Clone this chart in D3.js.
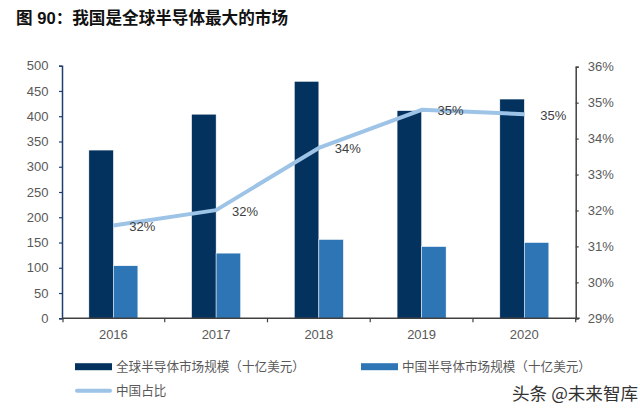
<!DOCTYPE html>
<html><head><meta charset="utf-8">
<script src="https://cdn.jsdelivr.net/npm/d3@7"></script>
<style>body{margin:0;background:#fff}svg{display:block}</style>
</head><body>
<svg id="c" width="640" height="415"></svg>
<script>
const years = ["2016","2017","2018","2019","2020"];
const globalMarket = [333, 404, 469, 411, 434];
const chinaMarket = [104, 129, 156, 142, 150];
const chinaShare = [31.58, 32.01, 33.74, 34.80, 34.68];
const shareLabels = ["32%","32%","34%","35%","35%"];
const leftTicks = [0,50,100,150,200,250,300,350,400,450,500];
const rightTicks = [29,30,31,32,33,34,35,36];
const seriesNames = ["全球半导体市场规模（十亿美元）","中国半导体市场规模（十亿美元）","中国占比"];

const colDark = "#04325F", colMid = "#2E75B6", colLine = "#9DC3E6";
const svg = d3.select("#c");
const L = 62, R = 575.7, T = 65.7, B = 318.3;
const x = d3.scaleBand().domain(years).range([L, R]).padding(0);
const y = d3.scaleLinear().domain([0, 500]).range([B, T]);
const y2 = d3.scaleLinear().domain([29, 36]).range([B, 66.7]);
const gw = 49;
const x1 = d3.scaleBand().domain([0,1]).range([0, gw]).padding(0);
const off = (x.bandwidth() - gw) / 2;

// title
svg.append("text").attr("x", 16).attr("y", 24)
  .attr("font-family", "'Liberation Sans','Noto Sans CJK SC',sans-serif")
  .attr("font-weight", "bold").attr("font-size", 16.6).attr("fill", "#111")
  .text("图 90：我国是全球半导体最大的市场");

// bars
const g = svg.append("g");
years.forEach((yr, i) => {
  [globalMarket[i], chinaMarket[i]].forEach((v, k) => {
    g.append("rect")
      .attr("x", x(yr) + off + x1(k)).attr("width", x1.bandwidth())
      .attr("y", y(v)).attr("height", B - y(v))
      .attr("fill", k === 0 ? colDark : colMid)
      .attr("stroke", "#fff").attr("stroke-width", 0.5);
  });
});

// left axis
const ax = svg.append("g").attr("transform", `translate(${L},0)`)
  .call(d3.axisLeft(y).tickValues(leftTicks).tickSize(3).tickPadding(10.5));
ax.select(".domain").attr("stroke", "#1F3F6F").attr("stroke-width", 1.5);
ax.selectAll(".tick line").attr("stroke", "#1F3F6F").attr("stroke-width", 1.2);
ax.selectAll("text").attr("font-family", "'Liberation Sans',Arial,sans-serif")
  .attr("font-size", 13).attr("fill", "#595959");

// right axis
const ar = svg.append("g").attr("transform", `translate(${R},0)`)
  .call(d3.axisRight(y2).tickValues(rightTicks).tickSize(3).tickPadding(9).tickFormat(d => d + "%"));
ar.select(".domain").attr("stroke", "#404040").attr("stroke-width", 1.5);
ar.selectAll(".tick line").attr("stroke", "#404040").attr("stroke-width", 1.2);
ar.selectAll("text").attr("font-family", "'Liberation Sans',Arial,sans-serif")
  .attr("font-size", 13).attr("fill", "#595959");

// bottom axis
svg.append("line").attr("x1", L).attr("x2", R + 4).attr("y1", B).attr("y2", B)
  .attr("stroke", "#404040").attr("stroke-width", 1.5);
years.forEach((yr) => {
  svg.append("line").attr("x1", x(yr) + x.bandwidth()).attr("x2", x(yr) + x.bandwidth())
    .attr("y1", B).attr("y2", B + 4).attr("stroke", "#404040").attr("stroke-width", 1.2);
});
svg.append("line").attr("x1", L + 1).attr("x2", L + 1).attr("y1", B).attr("y2", B + 4)
  .attr("stroke", "#404040").attr("stroke-width", 1.2);
years.forEach((yr) => {
  svg.append("text").attr("x", x(yr) + x.bandwidth() / 2).attr("y", 339)
    .attr("text-anchor", "middle").attr("font-family", "'Liberation Sans',Arial,sans-serif")
    .attr("font-size", 13).attr("fill", "#595959").text(yr);
});

// line
const pts = years.map((yr, i) => [x(yr) + x.bandwidth() / 2, y2(chinaShare[i])]);
svg.append("path").attr("d", d3.line()(pts)).attr("fill", "none")
  .attr("stroke", colLine).attr("stroke-width", 4).attr("stroke-linejoin", "round");
pts.forEach((p, i) => {
  svg.append("text").attr("x", p[0] + 16).attr("y", p[1] + 5.5)
    .attr("font-family", "'Liberation Sans',Arial,sans-serif").attr("font-size", 13)
    .attr("fill", "#404040").text(shareLabels[i]);
});

// legend
const lf = "'Noto Sans CJK SC',sans-serif";
const leg = [
  {x: 75, y: 366.7, h: 7, c: colDark, t: seriesNames[0]},
  {x: 361, y: 366.7, h: 7, c: colMid, t: seriesNames[1]},
  {x: 75, y: 390.7, h: 4, c: colLine, t: seriesNames[2]}
];
leg.forEach(d => {
  svg.append("rect").attr("x", d.x).attr("y", d.y - d.h / 2).attr("width", 37).attr("height", d.h)
    .attr("fill", d.c).attr("rx", d.h === 4 ? 2 : 0);
  svg.append("text").attr("x", d.x + 41).attr("y", d.y + 4.5)
    .attr("font-family", lf).attr("font-size", 12.6).attr("fill", "#595959").text(d.t);
});

// watermark
svg.append("text").attr("x", 512).attr("y", 399.5)
  .attr("font-family", lf).attr("font-size", 17.6).attr("fill", "#333").text("头条 @未来智库");
</script>
</body></html>
